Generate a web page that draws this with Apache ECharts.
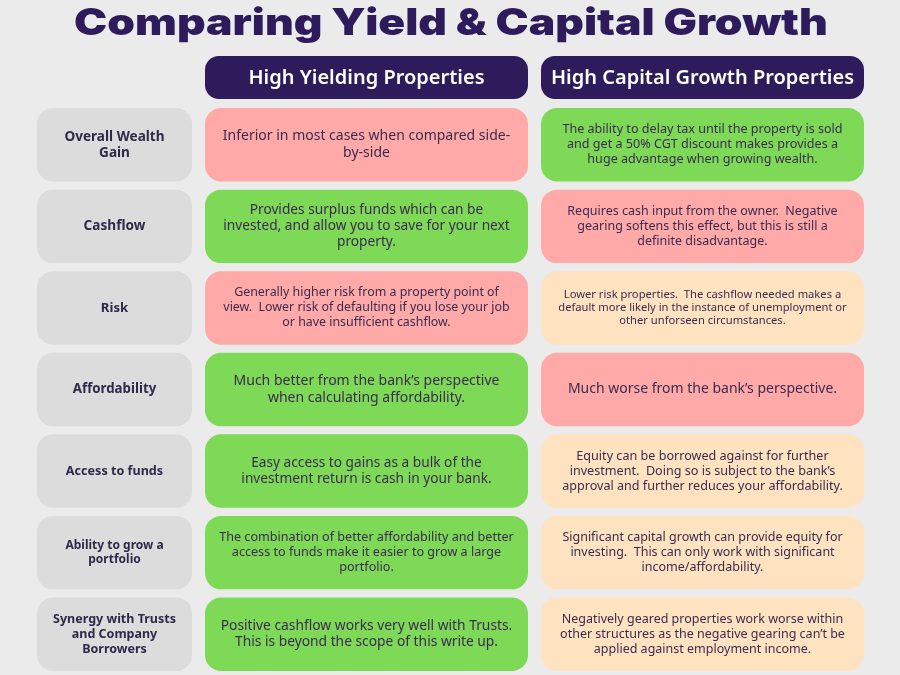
<!DOCTYPE html>
<html>
<head>
<meta charset="utf-8">
<script src="https://cdn.jsdelivr.net/npm/echarts@6/dist/echarts.min.js"></script>
<style>
html,body{margin:0;padding:0;background:#ebebeb;}
#main{width:900px;height:675px;}
</style>
</head>
<body>
<div id="main"></div>
<script>
// 数据
var titleText = 'Comparing Yield & Capital Growth';
var columnHeads = ['High Yielding Properties', 'High Capital Growth Properties'];
var rowLabels = ['Overall Wealth\nGain', 'Cashflow', 'Risk', 'Affordability', 'Access to funds', 'Ability to grow a\nportfolio', 'Synergy with Trusts\nand Company\nBorrowers'];
var yieldText = [
	'Inferior in most cases when compared side-\nby-side',
	'Provides surplus funds which can be\ninvested, and allow you to save for your next\nproperty.',
	'Generally higher risk from a property point of\nview.  Lower risk of defaulting if you lose your job\nor have insufficient cashflow.',
	'Much better from the bank\u2019s perspective\nwhen calculating affordability.',
	'Easy access to gains as a bulk of the\ninvestment return is cash in your bank.',
	'The combination of better affordability and better\naccess to funds make it easier to grow a large\nportfolio.',
	'Positive cashflow works very well with Trusts.\nThis is beyond the scope of this write up.'
];
var growthText = [
	'The ability to delay tax until the property is sold\nand get a 50% CGT discount makes provides a\nhuge advantage when growing wealth.',
	'Requires cash input from the owner.  Negative\ngearing softens this effect, but this is still a\ndefinite disadvantage.',
	'Lower risk properties.  The cashflow needed makes a\ndefault more likely in the instance of unemployment or\nother unforseen circumstances.',
	'Much worse from the bank\u2019s perspective.',
	'Equity can be borrowed against for further\ninvestment.  Doing so is subject to the bank\u2019s\napproval and further reduces your affordability.',
	'Significant capital growth can provide equity for\ninvesting.  This can only work with significant\nincome/affordability.',
	'Negatively geared properties work worse within\nother structures as the negative gearing can\u2019t be\napplied against employment income.'
];
var yieldRating = ['bad', 'good', 'bad', 'good', 'good', 'good', 'good'];
var growthRating = ['good', 'bad', 'neutral', 'bad', 'neutral', 'neutral', 'neutral'];

// 样式
var purple = '#2d1b5c';
var textColor = '#3b2b4f';
var fillColor = {good: '#7ed957', bad: '#ffaaa8', neutral: '#ffe3c0', label: '#dcdcdc'};
var labelFont = [13.6, 13.6, 13.2, 13.3, 12.6, 12, 12.5];
var yieldFont = [14, 13.7, 12.4, 14, 13.7, 12.6, 13.8];
var growthFont = [12.6, 12.5, 11.2, 14, 12.6, 12.5, 12.5];
var bodyFamily = '"Noto Sans", sans-serif';
// 列范围 (x 轴单位)
var COLS = [[0, 155], [168, 491], [504, 827]];

function cellSeries(col, texts, ratings, fonts, bold) {
	return {
		type: 'custom',
		coordinateSystem: 'cartesian2d',
		data: texts.map(function (t, i) { return [col, i]; }),
		renderItem: function (params, api) {
			var i = params.dataIndex;
			var row = api.value(1);
			var p0 = api.coord([COLS[col][0], row]);
			var p1 = api.coord([COLS[col][1], row]);
			var h = api.size([0, 1])[1] * 0.9;
			var fs = fonts[i];
			return {
				type: 'group',
				children: [{
					type: 'rect',
					shape: {x: p0[0], y: p0[1] - h / 2, width: p1[0] - p0[0], height: h, r: 16},
					style: {fill: ratings ? fillColor[ratings[i]] : fillColor.label}
				}, {
					type: 'text',
					style: {
						text: texts[i],
						x: (p0[0] + p1[0]) / 2,
						y: p0[1],
						align: 'center',
						verticalAlign: 'middle',
						fontSize: fs,
						lineHeight: Math.round(fs * 1.18),
						fontFamily: bodyFamily,
						fontWeight: bold ? 'bold' : 'normal',
						fill: bold ? '#2e2a4a' : textColor
					}
				}]
			};
		}
	};
}

function headPill(x, text) {
	return {
		type: 'group',
		left: x, top: 56,
		children: [{
			type: 'rect', shape: {x: 0, y: 0, width: 323, height: 43, r: 14}, style: {fill: purple}
		}, {
			type: 'text',
			style: {text: text, x: 161.5, y: 22, align: 'center', verticalAlign: 'middle', fontSize: 20, fontWeight: 600, fontFamily: bodyFamily, fill: '#ffffff'}
		}]
	};
}

var myChart = echarts.init(document.getElementById('main'));
var option = {
	backgroundColor: '#ebebeb',
	animation: false,
	grid: {left: 37, right: 36, top: 104, height: 571},
	xAxis: {type: 'value', min: 0, max: 827, show: false},
	yAxis: {type: 'category', data: rowLabels, inverse: true, show: false},
	graphic: [{
		type: 'text',
		x: 451, y: 24,
		scaleX: 1.2,
		style: {text: titleText, align: 'center', verticalAlign: 'middle', fontSize: 37, fontWeight: 900, fontFamily: 'Inter, sans-serif', fill: purple}
	},
	headPill(205, columnHeads[0]),
	headPill(541, columnHeads[1])
	],
	series: [
		cellSeries(0, rowLabels, null, labelFont, true),
		cellSeries(1, yieldText, yieldRating, yieldFont, false),
		cellSeries(2, growthText, growthRating, growthFont, false)
	]
};
myChart.setOption(option);
</script>
</body>
</html>
